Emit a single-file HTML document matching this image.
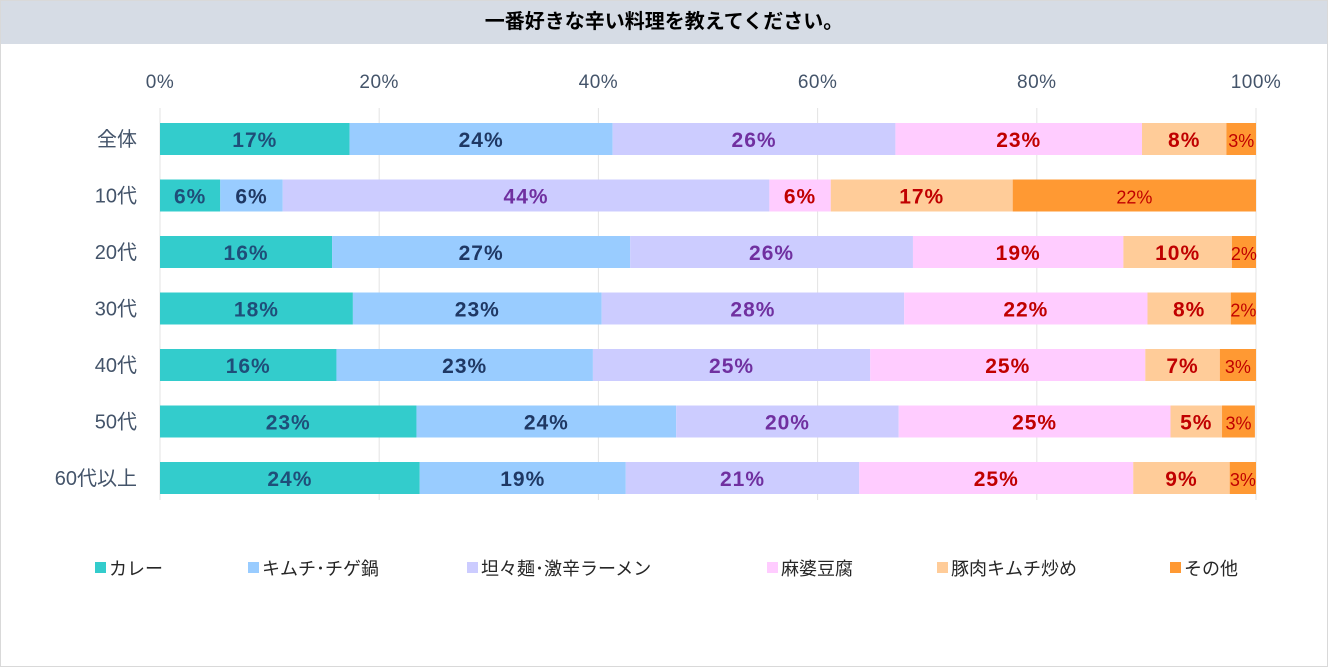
<!DOCTYPE html>
<html><head><meta charset="utf-8"><style>
body{margin:0;width:1328px;height:667px;background:#fff;overflow:hidden;font-family:"Liberation Sans","Noto Sans CJK JP",sans-serif}
#frame{position:absolute;left:0;top:0;width:1326px;height:665px;border:1px solid #d9d9d9}
#title{position:absolute;left:1px;top:1px;width:1326px;height:43px;background:#d6dce5;text-align:center;line-height:43px;font-size:20px;font-weight:bold;color:#000}
</style></head><body>
<div id="frame"></div>
<div id="title">一番好きな辛い料理を教えてください。</div>
<svg id="chart" width="1328" height="667" style="position:absolute;left:0;top:0"></svg>
<script>
const categories=["全体","10代","20代","30代","40代","50代","60代以上"];
const seriesNames=["カレー","キムチ･チゲ鍋","坦々麺･激辛ラーメン","麻婆豆腐","豚肉キムチ炒め","その他"];
const curry=[17.3,5.5,15.7,17.6,16.1,23.4,23.7];
const kimchi=[24.0,5.7,27.2,22.7,23.4,23.7,18.8];
const tantan=[25.8,44.4,25.8,27.6,25.3,20.3,21.3];
const mapo=[22.5,5.6,19.2,22.2,25.1,24.8,25.0];
const pork=[7.7,16.6,9.9,7.6,6.8,4.7,8.8];
const other=[2.7,22.3,2.3,2.4,3.3,3.0,2.6];
const ticks=[0,20,40,60,80,100];
const series=[curry,kimchi,tantan,mapo,pork,other];
const fills=["#33cccc","#99ccff","#ccccff","#ffccff","#ffcc99","#ff9933"];
const txtColors=["#1f4e79","#1f3864","#7030a0","#c00000","#c00000","#c00000"];
const X0=160,X1=1256,Y0=139,DY=56.5,BH=32;
const xs=v=>X0+(X1-X0)*v/100;
const ys=i=>Y0+DY*i;
const svg=document.getElementById('chart');
const NS="http://www.w3.org/2000/svg";
function mk(t,a){const e=document.createElementNS(NS,t);for(const k in a)e.setAttribute(k,a[k]);svg.appendChild(e);return e;}
ticks.forEach(t=>{
 const g=mk('line',{x1:xs(t),x2:xs(t),y1:108,y2:500,stroke:'#e3e3e3','stroke-width':1});
 
 
 const l=mk('text',{x:xs(t),y:88,'text-anchor':'middle','font-size':19,fill:'#44546a','letter-spacing':0.5});
 l.textContent=t+'%';
 
 
});
categories.forEach((c,i)=>{
 const l=mk('text',{x:137,y:ys(i)+7,'text-anchor':'end','font-size':20,fill:'#44546a'});
 l.textContent=c;
 
 
 let cum=0;
 series.forEach((s,j)=>{
  const v=s[i];const a=Math.min(cum,100),b=Math.min(cum+v,100);cum+=v;
  const r=mk('rect',{x:xs(a),y:ys(i)-BH/2,width:xs(b)-xs(a),height:BH,fill:fills[j]});
  
  
  const isOther=j===5;
  const t=mk('text',{x:(xs(a)+xs(b))/2,y:ys(i)+8,'text-anchor':'middle','font-size':isOther?18:21,'font-weight':isOther?'normal':'bold',fill:txtColors[j],'letter-spacing':isOther?0:1});
  t.textContent=Math.round(v)+'%';
  
  
 });
});
const lx=[95,248,467,767,937,1170];
seriesNames.forEach((n,j)=>{
 const r=mk('rect',{x:lx[j],y:562,width:11,height:11,fill:fills[j]});
 
 
 const t=mk('text',{x:lx[j]+14,y:575,'font-size':18,fill:'#262626'});
 t.textContent=n;
 
 
});
</script>
</body></html>
